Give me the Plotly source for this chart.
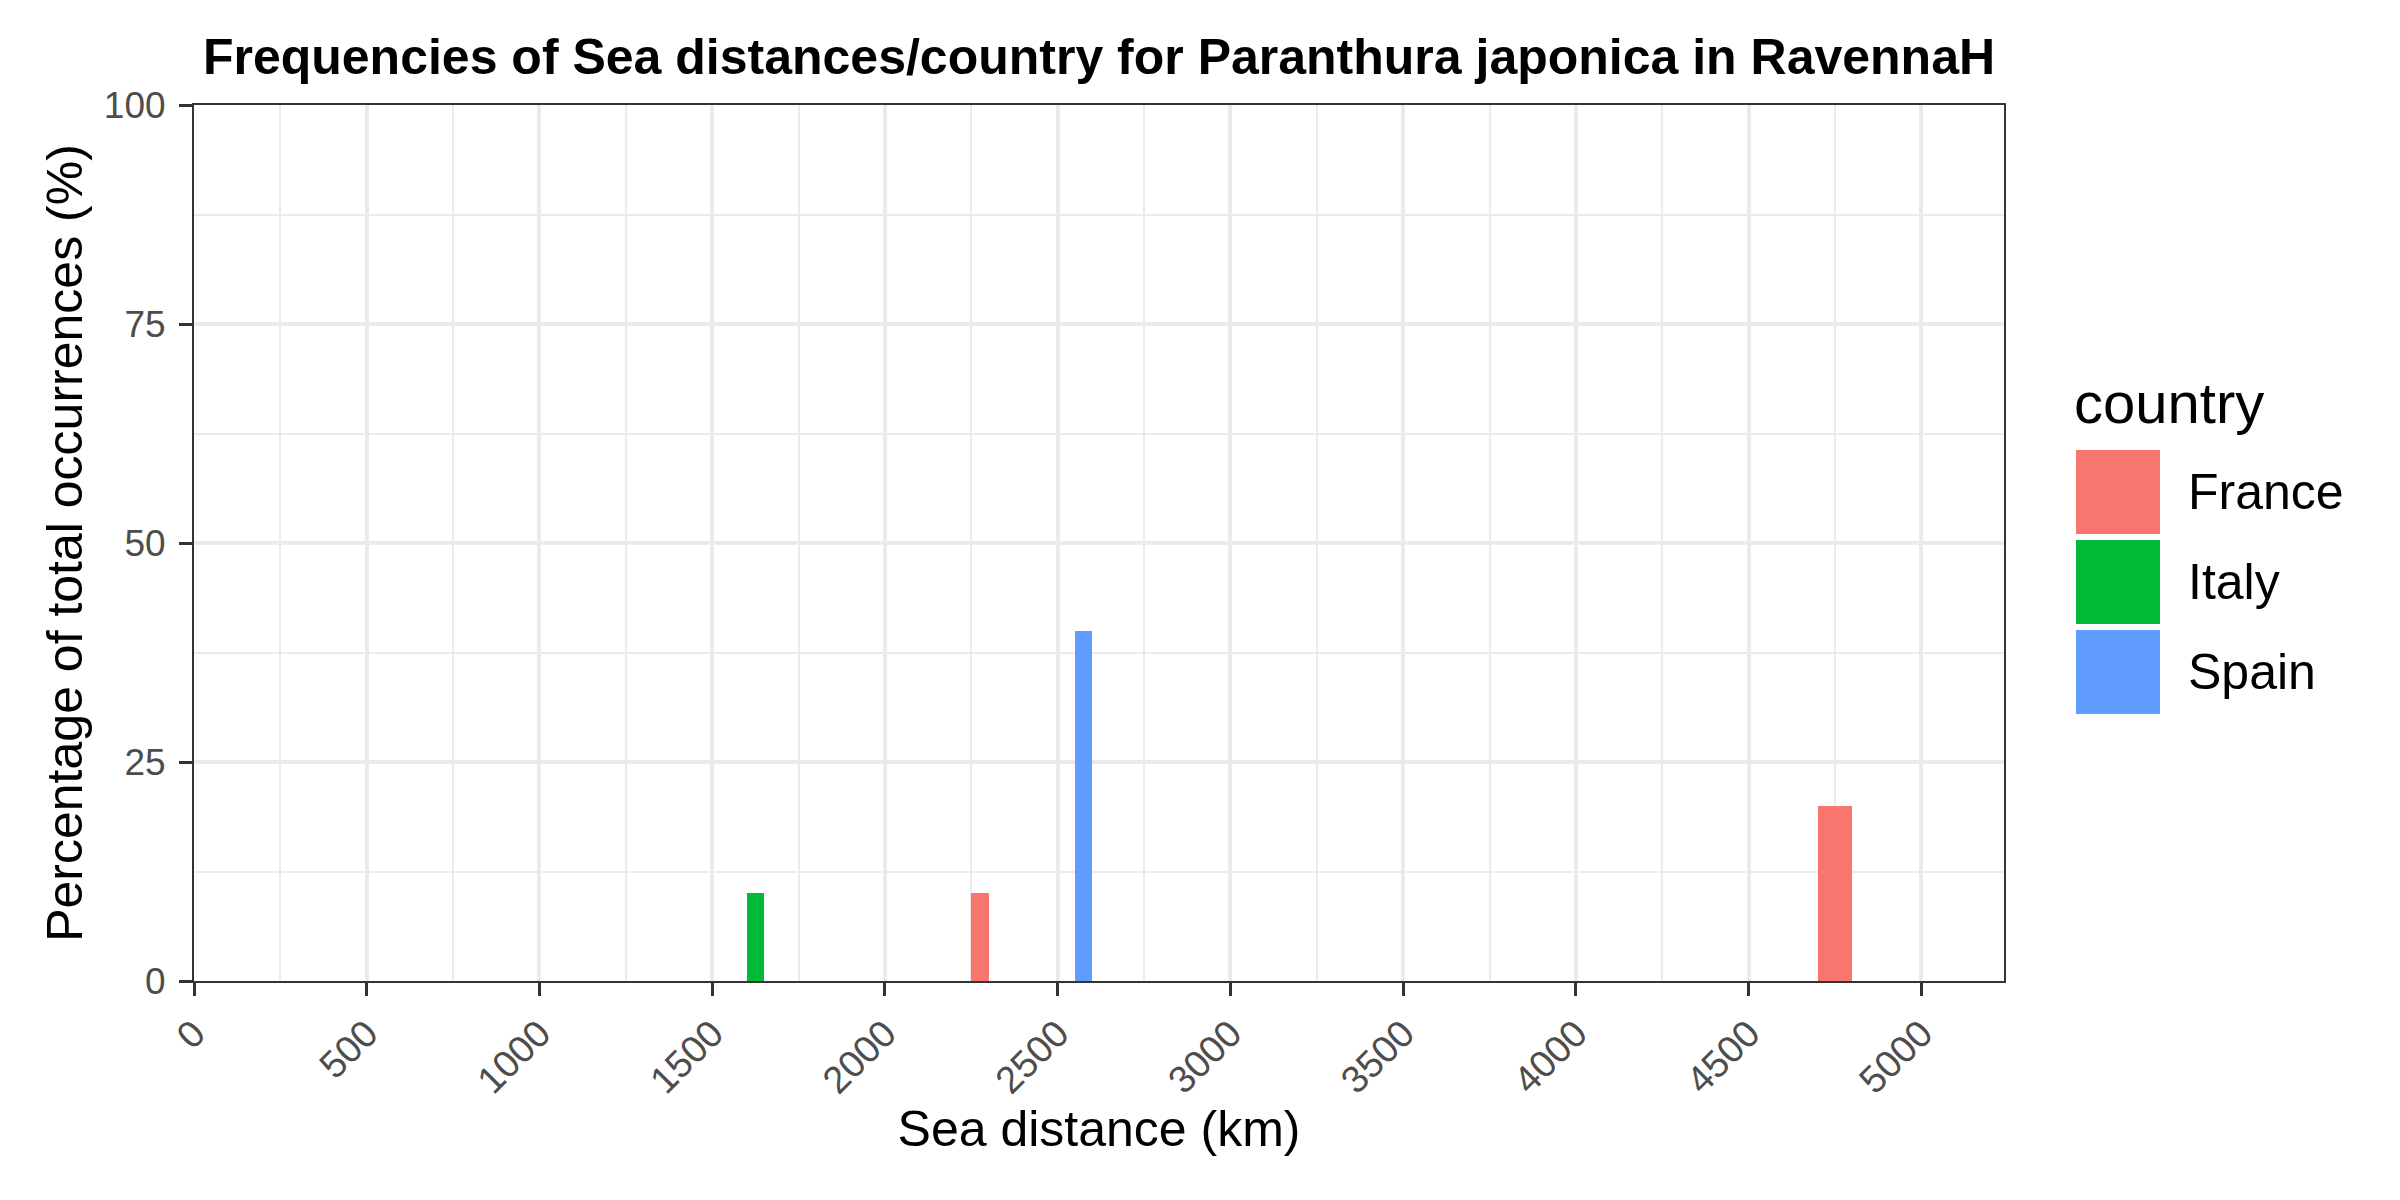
import plotly.graph_objects as go

# ---------------- data ----------------
countries = ["France", "Italy", "Spain"]
colors = ["#F8766D", "#00BA38", "#619CFF"]
bin_width = 50  # km

france_bins = [2250, 4700, 4750]
france_pct = [10, 20, 20]
italy_bins = [1600]
italy_pct = [10]
spain_bins = [2550]
spain_pct = [40]

x_ticks = [0, 500, 1000, 1500, 2000, 2500, 3000, 3500, 4000, 4500, 5000]
y_ticks = [0, 25, 50, 75, 100]
x_range = [0, 5239]
y_range = [0, 100]

title_text = "Frequencies of Sea distances/country for Paranthura japonica in RavennaH"
x_title = "Sea distance (km)"
y_title = "Percentage of total occurrences (%)"
legend_title = "country"

series = {
    "France": (france_bins, france_pct),
    "Italy": (italy_bins, italy_pct),
    "Spain": (spain_bins, spain_pct),
}

# ---------------- layout geometry (px) ----------------
W, H = 2400, 1200
PL, PR, PT, PB = 194, 2004, 105, 981
FONT = "Liberation Sans, Arial, sans-serif"
GRID = "#EBEBEB"
DARK = "#333333"


def px_x(px):
    return (px - PL) / (PR - PL)


def px_y(py):
    return (PB - py) / (PB - PT)


fig = go.Figure()
for name, col in zip(countries, colors):
    bins, pct = series[name]
    fig.add_trace(go.Bar(
        x=bins, y=pct, width=[bin_width] * len(bins), offset=0,
        name=name, marker=dict(color=col, line=dict(width=0)),
        showlegend=False,
    ))

x_minor = [(a + b) / 2 for a, b in zip(x_ticks[:-1], x_ticks[1:])]
y_minor = [(a + b) / 2 for a, b in zip(y_ticks[:-1], y_ticks[1:])]

fig.update_layout(
    width=W, height=H,
    margin=dict(l=PL, r=W - PR, t=PT, b=H - PB, autoexpand=False),
    paper_bgcolor="white", plot_bgcolor="white",
    barmode="overlay", bargap=0,
    font=dict(family=FONT, color="black"),
    title=dict(text="<b>" + title_text + "</b>", x=px_x(1099), xref="paper",
               xanchor="center", y=1 - 56 / H, yanchor="middle",
               font=dict(size=50, family=FONT, color="black")),
    showlegend=False,
)

fig.update_xaxes(
    range=x_range, tickmode="array", tickvals=x_ticks,
    ticktext=[str(v) for v in x_ticks], tickangle=-45,
    tickfont=dict(size=38, color="#4D4D4D", family=FONT),
    ticks="outside", ticklen=13, tickwidth=3, tickcolor=DARK,
    showgrid=True, gridcolor=GRID, gridwidth=4,
    minor=dict(tickmode="array", tickvals=x_minor, showgrid=True,
               gridcolor=GRID, gridwidth=2, ticks=""),
    showline=True, linecolor=DARK, linewidth=2, mirror=True,
    zeroline=False, automargin=False,
    title=dict(text=x_title, font=dict(size=50, family=FONT, color="black"),
               standoff=8),
)
fig.update_yaxes(
    range=y_range, tickmode="array", tickvals=y_ticks,
    ticktext=[str(v) for v in y_ticks],
    tickfont=dict(size=37, color="#4D4D4D", family=FONT),
    ticks="outside", ticklen=13, tickwidth=3, tickcolor=DARK,
    ticklabelstandoff=6,
    showgrid=True, gridcolor=GRID, gridwidth=4,
    minor=dict(tickmode="array", tickvals=y_minor, showgrid=True,
               gridcolor=GRID, gridwidth=2, ticks=""),
    showline=True, linecolor=DARK, linewidth=2, mirror=True,
    zeroline=False, automargin=False,
    title=dict(text=y_title, font=dict(size=50, family=FONT, color="black"),
               standoff=5),
)

# ---------------- legend (drawn like ggplot's) ----------------
key_x0, key_x1 = 2076, 2160
key_top, key_h, key_gap = 450, 84, 6
fig.add_annotation(
    x=px_x(2072), y=px_y(403), xref="paper", yref="paper",
    text=legend_title, showarrow=False, xanchor="left", yanchor="middle",
    font=dict(size=58, family=FONT, color="black"),
)
for i, (name, col) in enumerate(zip(countries, colors)):
    top = key_top + i * (key_h + key_gap)
    fig.add_shape(
        type="rect", xref="paper", yref="paper",
        x0=px_x(key_x0), x1=px_x(key_x1), y0=px_y(top + key_h), y1=px_y(top),
        fillcolor=col, line=dict(width=0), layer="above",
    )
    fig.add_annotation(
        x=px_x(2186), y=px_y(top + key_h / 2), xref="paper", yref="paper",
        text=name, showarrow=False, xanchor="left", yanchor="middle",
        font=dict(size=50, family=FONT, color="black"),
    )

fig.write_html("out.html")
